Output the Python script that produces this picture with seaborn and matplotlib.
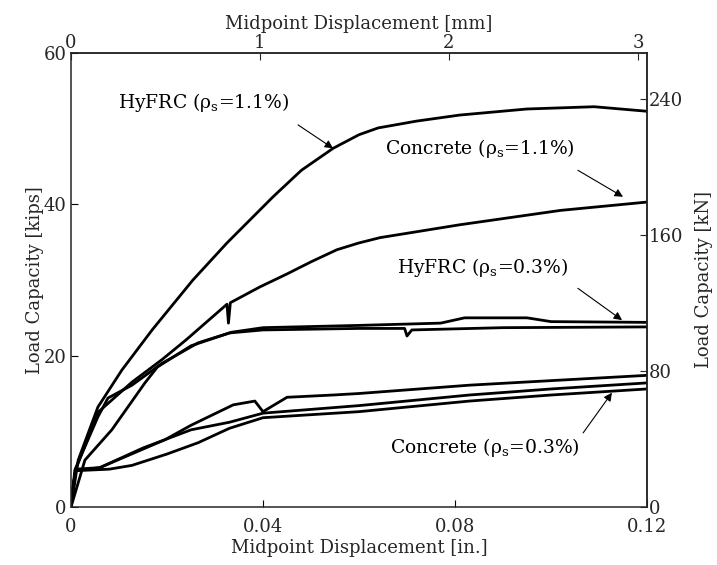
import numpy as np
import pandas as pd
import matplotlib
matplotlib.use("Agg")
import matplotlib.pyplot as plt
import seaborn as sns

# Midpoint displacement [in.] and load [kips] for each specimen
hyfrc_11_x = [0, 0.0015, 0.0056, 0.0106, 0.0169, 0.0254, 0.0325, 0.0421, 0.048, 0.0546, 0.060, 0.064, 0.072, 0.081, 0.095, 0.109, 0.12]
hyfrc_11_y = [0, 6.2, 13.2, 18.1, 23.4, 30.0, 34.9, 41.0, 44.5, 47.4, 49.2, 50.1, 51.0, 51.8, 52.6, 52.9, 52.3]

conc_11_x = [0, 0.001, 0.0056, 0.0127, 0.019, 0.024, 0.0325, 0.0328, 0.0332, 0.0394, 0.045, 0.050, 0.0554, 0.060, 0.0644, 0.081, 0.102, 0.12]
conc_11_y = [0, 5.0, 12.5, 16.5, 19.5, 22.1, 26.8, 24.3, 27.0, 29.1, 30.8, 32.4, 34.0, 34.9, 35.6, 37.3, 39.2, 40.3]

hyfrc_03a_x = [0, 0.0008, 0.0056, 0.0077, 0.0127, 0.019, 0.0265, 0.0335, 0.040, 0.060, 0.077, 0.082, 0.095, 0.100, 0.12]
hyfrc_03a_y = [0, 4.9, 11.9, 14.4, 16.1, 19.0, 21.7, 23.1, 23.7, 24.0, 24.3, 25.0, 25.0, 24.5, 24.4]

hyfrc_03b_x = [0, 0.0029, 0.0085, 0.0154, 0.018, 0.025, 0.033, 0.040, 0.060, 0.0695, 0.0700, 0.0710, 0.090, 0.12]
hyfrc_03b_y = [0, 6.2, 10.2, 16.4, 18.5, 21.3, 23.0, 23.4, 23.6, 23.6, 22.6, 23.4, 23.7, 23.8]

conc_03a_x = [0, 0.0005, 0.001, 0.006, 0.0196, 0.025, 0.0338, 0.0383, 0.0400, 0.045, 0.0546, 0.060, 0.083, 0.100, 0.12]
conc_03a_y = [0, 3.0, 4.8, 5.2, 8.9, 10.8, 13.5, 14.0, 12.6, 14.5, 14.8, 15.0, 16.1, 16.7, 17.4]

conc_03b_x = [0, 0.0005, 0.001, 0.006, 0.015, 0.025, 0.033, 0.040, 0.060, 0.083, 0.100, 0.12]
conc_03b_y = [0, 3.0, 5.0, 5.2, 7.8, 10.2, 11.2, 12.4, 13.4, 14.8, 15.6, 16.4]

conc_03c_x = [0, 0.0005, 0.001, 0.008, 0.0127, 0.020, 0.0265, 0.033, 0.040, 0.060, 0.083, 0.100, 0.12]
conc_03c_y = [0, 3.0, 4.8, 5.0, 5.5, 7.0, 8.5, 10.4, 11.8, 12.6, 14.0, 14.8, 15.6]

# Annotations: text, text anchor (left, vertical center) and arrow tail/head
label_texts = ["HyFRC (ρ$_\\mathrm{s}$=1.1%)", "Concrete (ρ$_\\mathrm{s}$=1.1%)",
               "HyFRC (ρ$_\\mathrm{s}$=0.3%)", "Concrete (ρ$_\\mathrm{s}$=0.3%)"]
label_xy = [(0.0098, 53.4), (0.0654, 47.4), (0.0679, 31.6), (0.0665, 7.9)]
arrow_tail = [(0.0473, 50.5), (0.1056, 44.5), (0.1056, 28.9), (0.1067, 9.8)]
arrow_head = [(0.0546, 47.4), (0.1150, 41.0), (0.1148, 24.7), (0.1127, 15.1)]

x_ticks_in = [0, 0.04, 0.08, 0.12]
x_tick_labels = ["0", "0.04", "0.08", "0.12"]
y_ticks_kips = [0, 20, 40, 60]
x_ticks_mm = [0, 1, 2, 3]
y_ticks_kn = [0, 80, 160, 240]

IN_TO_MM = 25.4
KIP_TO_KN = 4.448222

sns.set_theme(style="ticks")
plt.rcParams["font.family"] = ["DejaVu Serif"]
plt.rcParams["mathtext.fontset"] = "dejavuserif"
plt.rcParams["axes.linewidth"] = 1.1
plt.rcParams["xtick.direction"] = "in"
plt.rcParams["ytick.direction"] = "in"

series = [
    ("HyFRC 1.1%", hyfrc_11_x, hyfrc_11_y),
    ("Concrete 1.1%", conc_11_x, conc_11_y),
    ("HyFRC 0.3% a", hyfrc_03a_x, hyfrc_03a_y),
    ("HyFRC 0.3% b", hyfrc_03b_x, hyfrc_03b_y),
    ("Concrete 0.3% a", conc_03a_x, conc_03a_y),
    ("Concrete 0.3% b", conc_03b_x, conc_03b_y),
    ("Concrete 0.3% c", conc_03c_x, conc_03c_y),
]
df = pd.concat(
    [pd.DataFrame({"specimen": n, "disp": x, "load": y}) for n, x, y in series],
    ignore_index=True,
)

fig = plt.figure(figsize=(7.17, 5.65), dpi=100)
ax = fig.add_axes([71 / 717, 58 / 565, 576 / 717, 454 / 565])

sns.lineplot(data=df, x="disp", y="load", units="specimen", estimator=None,
             sort=False, color="black", lw=2.0, ax=ax)

ax.set_xlim(0, 0.12)
ax.set_ylim(0, 60)
ax.set_xticks(x_ticks_in)
ax.set_xticklabels(x_tick_labels)
ax.set_yticks(y_ticks_kips)
ax.tick_params(axis="both", length=5, width=0.8, labelsize=13, color="black")
ax.tick_params(axis="x", pad=8)
ax.tick_params(axis="y", pad=3)
ax.set_xlabel("Midpoint Displacement [in.]", fontsize=13, labelpad=2)
ax.set_ylabel("Load Capacity [kips]", fontsize=13, labelpad=0)

top = ax.secondary_xaxis("top", functions=(lambda v: v * IN_TO_MM, lambda v: v / IN_TO_MM))
top.set_xticks(x_ticks_mm)
top.tick_params(axis="x", direction="in", length=5, width=0.8, labelsize=13, pad=1)
top.set_xlabel("Midpoint Displacement [mm]", fontsize=13, labelpad=3)

right = ax.secondary_yaxis("right", functions=(lambda v: v * KIP_TO_KN, lambda v: v / KIP_TO_KN))
right.set_yticks(y_ticks_kn)
right.tick_params(axis="y", direction="in", length=5, width=0.8, labelsize=13, pad=1)
right.set_ylabel("Load Capacity [kN]", fontsize=13, labelpad=9)

for txt, xy, tail, head in zip(label_texts, label_xy, arrow_tail, arrow_head):
    ax.text(xy[0], xy[1], txt, fontsize=13.5, ha="left", va="center", color="black")
    ax.annotate("", xy=head, xytext=tail,
                arrowprops=dict(arrowstyle="-|>", color="black", lw=0.8,
                                mutation_scale=12, shrinkA=0, shrinkB=0))

fig.savefig("out.png", dpi=100)
